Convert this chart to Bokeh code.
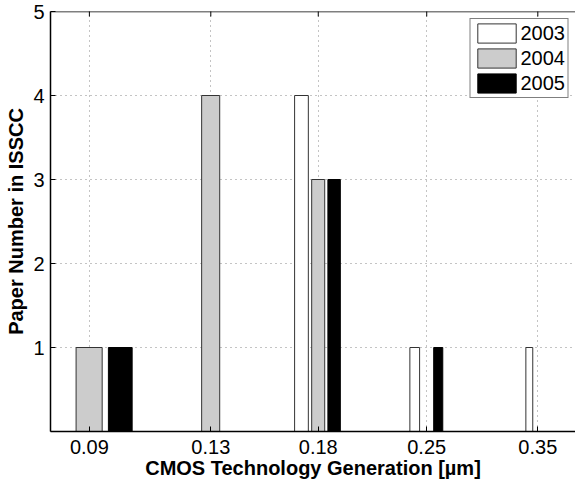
import math
from bokeh.plotting import figure
from bokeh.models import (Range1d, FixedTicker, PrintfTickFormatter,
                          Legend, LegendItem, ColumnDataSource, Span)
from bokeh.embed import file_html
from bokeh.resources import INLINE

# ---- data ----
tech_nodes = [0.09, 0.13, 0.18, 0.25, 0.35]
tick_labels = ["0.09", "0.13", "0.18", "0.25", "0.35"]
years = ["2003", "2004", "2005"]
papers_2003 = [0, 0, 4, 1, 1]
papers_2004 = [1, 4, 3, 0, 0]
papers_2005 = [1, 0, 3, 1, 0]
y_ticks = [1, 2, 3, 4, 5]

series = [papers_2003, papers_2004, papers_2005]
fills = ["#ffffff", "#cccccc", "#000000"]
edges = ["#333333", "#333333", "#000000"]

FONT = "Liberation Sans"
FS = "20px"

# grouped-bar geometry (MATLAB style, relative to min node spacing)
dx = min(b - a for a, b in zip(tech_nodes[:-1], tech_nodes[1:]))
group_w = min(0.8, len(series) / (len(series) + 1.5))
step = group_w / len(series) * dx
bar_w = 0.8 * step
y_top = y_ticks[-1]

p = figure(width=575, height=483, x_axis_type="log",
           x_range=Range1d(0.08, 0.3923), y_range=Range1d(0, y_top),
           output_backend="svg", toolbar_location=None,
           min_border_left=50, min_border_right=0,
           min_border_top=11, min_border_bottom=52)
p.outline_line_color = None
p.background_fill_color = "white"
p.border_fill_color = "white"

items = []
for i, (vals, yr) in enumerate(zip(series, years)):
    off = (i - (len(series) - 1) / 2) * step
    centers = [n + off for n in tech_nodes]
    src = ColumnDataSource(dict(
        left=[c - bar_w / 2 for c in centers],
        right=[c + bar_w / 2 for c in centers],
        top=vals, bottom=[0] * len(vals)))
    r = p.quad(left="left", right="right", top="top", bottom="bottom",
               source=src, fill_color=fills[i], line_color=edges[i],
               line_width=1)
    items.append(LegendItem(label=yr, renderers=[r]))

# x axis
xt = FixedTicker(ticks=tech_nodes, minor_ticks=[])
p.xaxis.ticker = xt
p.xaxis.formatter = PrintfTickFormatter(format="%.2f")
p.xaxis.major_label_overrides = {v: s for v, s in zip(tech_nodes, tick_labels)}
p.xaxis.axis_label = "CMOS Technology Generation [\u00b5m]"

# y axis
p.yaxis.ticker = FixedTicker(ticks=y_ticks, minor_ticks=[])
p.yaxis.axis_label = "Paper Number in ISSCC"

for ax in [p.xaxis[0], p.yaxis[0]]:
    ax.major_tick_in = 5
    ax.major_tick_out = 0
    ax.minor_tick_line_color = None
    ax.axis_line_color = "black"
    ax.axis_line_width = 1.5
    ax.major_tick_line_color = "black"
    ax.major_label_text_font = FONT
    ax.major_label_text_font_size = FS
    ax.major_label_text_color = "black"
    ax.axis_label_text_font = FONT
    ax.axis_label_text_font_size = FS
    ax.axis_label_text_font_style = "bold"
    ax.axis_label_text_color = "black"

p.xaxis.major_label_standoff = 8
p.xaxis.axis_label_standoff = 0
p.yaxis.major_label_standoff = 6
p.yaxis.axis_label_standoff = 3

# top border with inward ticks
p.add_layout(Span(location=y_top, dimension="width", line_color="black",
                  line_width=1.5))
p.scatter(x=tech_nodes, y=[y_top] * len(tech_nodes), marker="dash",
          angle=math.pi / 2, size=10, line_color="black", line_width=1)

# grids
for g in [p.xgrid[0], p.ygrid[0]]:
    g.grid_line_color = "#888888"
    g.grid_line_dash = "1 4"
    g.grid_line_width = 1
p.xgrid.ticker = xt
p.ygrid.ticker = FixedTicker(ticks=y_ticks)

legend = Legend(items=items, location="top_right",
                label_text_font=FONT, label_text_font_size=FS,
                label_text_color="black", label_text_align="left",
                glyph_width=48, glyph_height=24, label_height=24,
                label_width=0,
                spacing=1, padding=2, label_standoff=-2, margin=7,
                border_line_color="black", border_line_width=1,
                background_fill_color="white", background_fill_alpha=1)
p.add_layout(legend)

open("out.html", "w").write(file_html(p, INLINE))
